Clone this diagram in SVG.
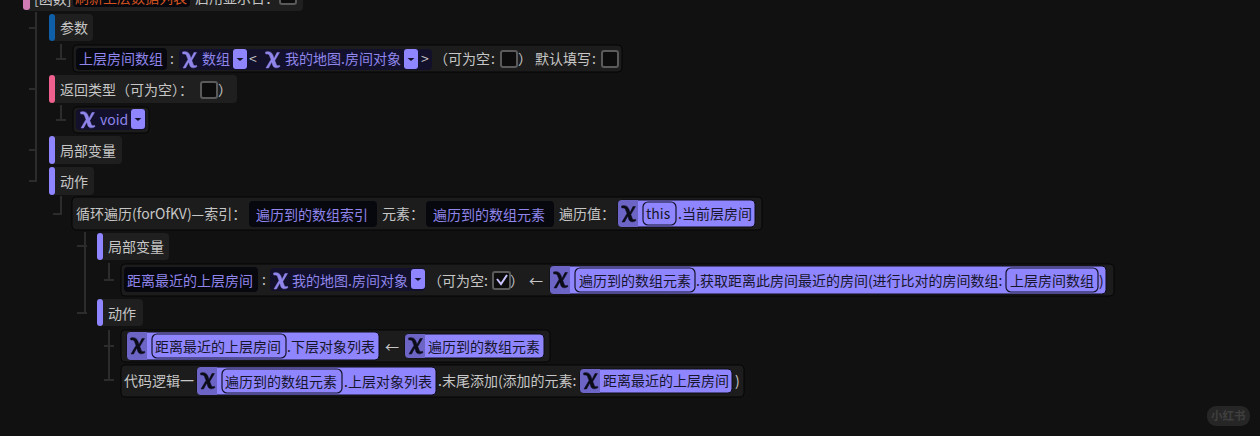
<svg xmlns="http://www.w3.org/2000/svg" width="1260" height="436" viewBox="0 0 1260 436">
<style>
text{font-family:"Noto Sans CJK SC","Noto Sans",sans-serif;font-size:14px;white-space:pre}
.w{fill:#c6c6c6}.p{fill:#8f85ea}.d{fill:#17152b}.o{fill:#d2521e}
.row{fill:#1c1c1c;stroke:#050505;stroke-width:1}
.hd{fill:#1f1f1f}
.name{fill:#07070e}
.type{fill:#12102a}
.blue{fill:#8f86ff;stroke:#0a0a14;stroke-width:1}
.seg{fill:#6d65c6}
.box{fill:#8f86ff;stroke:#14122a;stroke-width:1.2}
.chk{fill:#0c0c0c;stroke:#5a5a5a;stroke-width:2}
.tree{stroke:#2c2c2c;stroke-width:2;fill:none}
.dd{fill:#8f86ff}
</style>
<defs>
<path id="x" d="M1.500 1C5 0 8 1 9 4.500L10 7.500L13 1.500H15.500L10.800 9.500L12.500 14C13 15 14.500 15 15.500 14.300L16 15.500C13 17.500 9.500 17.500 8.500 13.500L7.800 11L4.500 17H2L7 8.500L5.500 4.500C5 3 3.500 2.800 1.800 3Z" stroke="currentColor" stroke-width=".5"/>
<g id="drop"><rect x="0" y="0" width="14" height="20" rx="3" class="dd"/><path d="M3.500 9H10.500L7 12Z" fill="#14122a"/></g>
<path id="tick" d="M3 5L7 10L13 1" fill="none" stroke="#c8c4ff" stroke-width="2"/>
</defs>
<rect width="1260" height="436" fill="#111112"/>
<g id="connectors" class="tree">
<path d="M36 12V181M29 28H37M29 89H37M29 150H37M29 181H37"/>
<path d="M61 44V59M56 59H66M61 105V120M56 120H66"/>
<path d="M61 196V214M53 214H62M85 232V313M77 246H87M77 313H87"/>
<path d="M109 263V280M104 280H114M109 330V380M104 346H114M104 380H114"/>
</g>
<g id="node-func">
<rect x="26" y="-12" width="277" height="23" rx="4" class="hd"/>
<rect x="23" y="-12" width="7" height="22" rx="3" fill="#d07cb4"/>
<text x="34" y="4" class="w">[函数]</text>
<rect x="73" y="-12" width="117" height="19" rx="4" class="name"/>
<text x="75" y="3" class="o">刷新上层数据列表</text>
<text x="195" y="3" class="w">启用显示否：</text>
<rect x="280" y="-8" width="16" height="12" rx="2" class="chk"/>
</g>
<g id="node-params">
<rect x="49" y="14" width="44" height="27" rx="4" class="hd"/>
<rect x="49" y="14" width="6" height="27" rx="3" fill="#0f5fa8"/>
<text x="60" y="33" class="w">参数</text>
</g>
<g id="node-param-row">
<rect x="73" y="45" width="549" height="27" rx="4" class="row"/>
<rect x="76" y="48" width="91" height="22" rx="4" class="name"/>
<text x="79" y="64" class="p">上层房间数组</text>
<text x="170" y="64" class="w">:</text>
<rect x="179" y="49" width="253" height="21" rx="4" class="type"/>
<use href="#x" x="181" y="51" fill="#8f85ea" color="#8f85ea"/>
<text x="202" y="64" class="p">数组</text>
<use href="#drop" x="233" y="49"/>
<text x="249" y="64" class="w">&lt;</text>
<use href="#x" x="264" y="51" fill="#8f85ea" color="#8f85ea"/>
<text x="285" y="64" class="p">我的地图.房间对象</text>
<use href="#drop" x="404" y="49"/>
<text x="421" y="64" class="w">&gt;</text>
<text x="434" y="64" class="w">（可为空</text>
<text x="491" y="64" class="w">:</text>
<rect x="501" y="51" width="16" height="16" rx="2" class="chk"/>
<text x="518" y="64" class="w">）</text>
<text x="535" y="64" class="w">默认填写</text>
<text x="592" y="64" class="w">:</text>
<rect x="602" y="51" width="16" height="16" rx="2" class="chk"/>
</g>
<g id="node-return">
<rect x="49" y="75" width="188" height="28" rx="4" class="hd"/>
<rect x="49" y="75" width="6" height="28" rx="3" fill="#f0608f"/>
<text x="60" y="95" class="w">返回类型（可为空）：</text>
<rect x="201" y="82" width="16" height="16" rx="2" class="chk"/>
<text x="218" y="95" class="w">）</text>
</g>
<g id="node-void">
<rect x="73" y="107" width="76" height="26" rx="4" class="row"/>
<rect x="76" y="109" width="70" height="21" rx="4" class="type"/>
<use href="#x" x="79" y="111" fill="#8f85ea" color="#8f85ea"/>
<text x="100" y="125" class="p">void</text>
<use href="#drop" x="131" y="109"/>
</g>
<g id="node-locals">
<rect x="49" y="136" width="73" height="28" rx="4" class="hd"/>
<rect x="49" y="136" width="6" height="28" rx="3" fill="#8f86ff"/>
<text x="60" y="156" class="w">局部变量</text>
</g>
<g id="node-actions">
<rect x="49" y="167" width="45" height="28" rx="4" class="hd"/>
<rect x="49" y="167" width="6" height="28" rx="3" fill="#8f86ff"/>
<text x="60" y="187" class="w">动作</text>
</g>
<g id="node-loop">
<rect x="72" y="197" width="690" height="33" rx="4" class="row"/>
<text x="76" y="219" class="w">循环遍历(forOfKV)—索引：</text>
<rect x="249" y="201" width="128" height="26" rx="4" class="name"/>
<text x="256" y="220" class="p">遍历到的数组索引</text>
<text x="382" y="219" class="w">元素：</text>
<rect x="426" y="201" width="128" height="26" rx="4" class="name"/>
<text x="433" y="220" class="p">遍历到的数组元素</text>
<text x="559" y="219" class="w">遍历值：</text>
<rect x="618" y="200" width="137" height="27" rx="4" class="blue"/>
<path d="M622 200H638V227H622a4 4 0 0 1-4-4V204a4 4 0 0 1 4-4Z" class="seg"/>
<use href="#x" x="620" y="205" fill="#0c0c18" color="#0c0c18"/>
<rect x="643" y="202" width="33" height="23" rx="5" class="box"/>
<text x="646" y="219" class="d">this</text>
<text x="678" y="219" class="d">.当前层房间</text>
</g>
<g id="node-inner-locals">
<rect x="97" y="233" width="72" height="27" rx="4" class="hd"/>
<rect x="97" y="233" width="6" height="27" rx="3" fill="#8f86ff"/>
<text x="108" y="252" class="w">局部变量</text>
</g>
<g id="node-nearest">
<rect x="121" y="264" width="993" height="32" rx="4" class="row"/>
<rect x="124" y="267" width="134" height="25" rx="4" class="name"/>
<text x="127" y="286" class="p">距离最近的上层房间</text>
<text x="262" y="285" class="w">:</text>
<rect x="270" y="268" width="155" height="23" rx="4" class="type"/>
<use href="#x" x="272" y="272" fill="#8f85ea" color="#8f85ea"/>
<text x="292" y="286" class="p">我的地图.房间对象</text>
<use href="#drop" x="411" y="269"/>
<text x="428" y="286" class="w">（可为空</text>
<text x="484" y="286" class="w">:</text>
<rect x="493" y="272" width="17" height="17" rx="2" class="chk"/>
<use href="#tick" x="494" y="274"/>
<text x="510" y="286" class="w">）</text>
<text x="529" y="286" class="w">←</text>
<rect x="550" y="266" width="556" height="28" rx="4" class="blue"/>
<path d="M554 266H570V294H554a4 4 0 0 1-4-4V270a4 4 0 0 1 4-4Z" class="seg"/>
<use href="#x" x="552" y="271" fill="#0c0c18" color="#0c0c18"/>
<rect x="575" y="268" width="120" height="24" rx="5" class="box"/>
<text x="579" y="286" class="d">遍历到的数组元素</text>
<text x="696" y="286" class="d">.获取距离此房间最近的房间(进行比对的房间数组:</text>
<rect x="1006" y="268" width="92" height="24" rx="5" class="box"/>
<text x="1010" y="286" class="d">上层房间数组</text>
<text x="1099" y="286" class="d">)</text>
</g>
<g id="node-inner-actions">
<rect x="97" y="299" width="46" height="27" rx="4" class="hd"/>
<rect x="97" y="299" width="6" height="27" rx="3" fill="#8f86ff"/>
<text x="108" y="319" class="w">动作</text>
</g>
<g id="node-assign">
<rect x="121" y="330" width="429" height="32" rx="4" class="row"/>
<rect x="127" y="332" width="252" height="28" rx="4" class="blue"/>
<path d="M131 332H147V360H131a4 4 0 0 1-4-4V336a4 4 0 0 1 4-4Z" class="seg"/>
<use href="#x" x="129" y="337" fill="#0c0c18" color="#0c0c18"/>
<rect x="152" y="334" width="134" height="24" rx="5" class="box"/>
<text x="155" y="352" class="d">距离最近的上层房间</text>
<text x="287" y="352" class="d">.下层对象列表</text>
<text x="385" y="352" class="w">←</text>
<rect x="405" y="334" width="139" height="24" rx="4" class="blue"/>
<path d="M409 334H425V358H409a4 4 0 0 1-4-4V338a4 4 0 0 1 4-4Z" class="seg"/>
<use href="#x" x="407" y="337" fill="#0c0c18" color="#0c0c18"/>
<text x="428" y="352" class="d">遍历到的数组元素</text>
</g>
<g id="node-append">
<rect x="121" y="365" width="623" height="32" rx="4" class="row"/>
<text x="124" y="386" class="w">代码逻辑一</text>
<rect x="197" y="367" width="239" height="28" rx="4" class="blue"/>
<path d="M201 367H217V395H201a4 4 0 0 1-4-4V371a4 4 0 0 1 4-4Z" class="seg"/>
<use href="#x" x="199" y="372" fill="#0c0c18" color="#0c0c18"/>
<rect x="222" y="369" width="120" height="24" rx="5" class="box"/>
<text x="225" y="387" class="d">遍历到的数组元素</text>
<text x="344" y="387" class="d">.上层对象列表</text>
<text x="438" y="386" class="w">.末尾添加(添加的元素:</text>
<rect x="580" y="369" width="152" height="24" rx="4" class="blue"/>
<path d="M584 369H600V393H584a4 4 0 0 1-4-4V373a4 4 0 0 1 4-4Z" class="seg"/>
<use href="#x" x="582" y="372" fill="#0c0c18" color="#0c0c18"/>
<text x="603" y="386" class="d">距离最近的上层房间</text>
<text x="735" y="386" class="w">)</text>
</g>
<g id="watermark">
<rect x="1207" y="406" width="43" height="20" rx="9" fill="#262626"/>
<text x="1211" y="420" style="font-size:11.500px;font-weight:700" fill="#3f3f3f">小红书</text>
</g>
</svg>
